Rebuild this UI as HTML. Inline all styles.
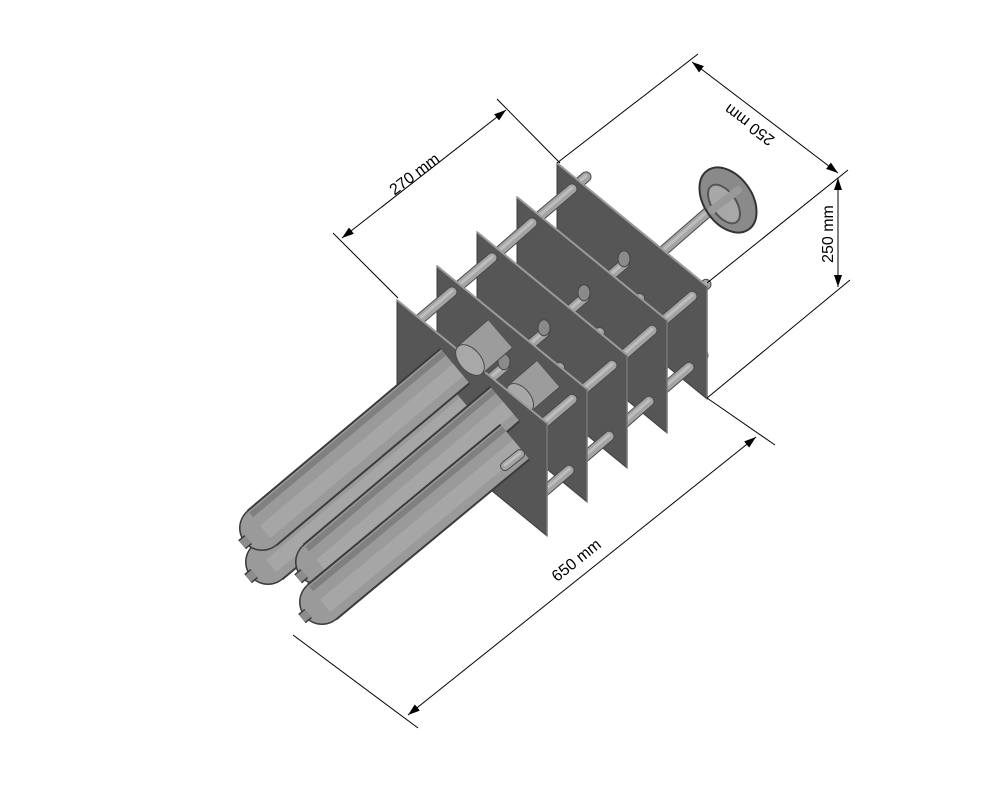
<!DOCTYPE html>
<html><head><meta charset="utf-8"><style>
html,body{margin:0;padding:0;background:#fff;}
svg{display:block;}
text{font-family:"Liberation Sans",sans-serif;font-size:16px;fill:#000;}
</style></head><body>
<svg id="s" width="1000" height="800" viewBox="0 0 1000 800" xmlns="http://www.w3.org/2000/svg">
<defs>
<marker id="ar" markerWidth="12" markerHeight="8" refX="12" refY="4" orient="auto" markerUnits="userSpaceOnUse">
<path d="M0,0 L12,4 L0,8 z" fill="#000"/></marker>
<marker id="al" markerWidth="12" markerHeight="8" refX="0" refY="4" orient="auto" markerUnits="userSpaceOnUse">
<path d="M12,0 L0,4 L12,8 z" fill="#000"/></marker>
</defs>
<rect width="1000" height="800" fill="#fff"/>
<g id="model"></g>
<g stroke="#000" stroke-width="1" fill="none">
<line x1="333" y1="233" x2="398" y2="298"/>
<line x1="497" y1="99" x2="560" y2="163"/>
<line x1="342" y1="238" x2="506" y2="110" marker-start="url(#al)" marker-end="url(#ar)"/>
<line x1="557" y1="163" x2="698" y2="54"/>
<line x1="707" y1="283" x2="848" y2="170"/>
<line x1="692" y1="62" x2="838" y2="173" marker-start="url(#al)" marker-end="url(#ar)"/>
<line x1="707" y1="398" x2="850" y2="280"/>
<line x1="838" y1="178" x2="838" y2="287" marker-start="url(#al)" marker-end="url(#ar)"/>
<line x1="707" y1="398" x2="775" y2="445"/>
<line x1="293" y1="635" x2="418" y2="728"/>
<line x1="408" y1="715" x2="756" y2="437" marker-start="url(#al)" marker-end="url(#ar)"/>
</g>
<text x="415" y="175" text-anchor="middle" dominant-baseline="middle" transform="rotate(-37 415 175)">270 mm</text>
<text x="750" y="124" text-anchor="middle" dominant-baseline="middle" transform="rotate(217 750 124)">250 mm</text>
<text x="829" y="234" text-anchor="middle" dominant-baseline="middle" transform="rotate(-90 829 234)">250 mm</text>
<text x="577" y="561" text-anchor="middle" dominant-baseline="middle" transform="rotate(-38.6 577 561)">650 mm</text>
</svg>
<script>
(function(){
var g=document.getElementById('model');var NS='http://www.w3.org/2000/svg';
function el(t,a){var e=document.createElementNS(NS,t);for(var k in a)e.setAttribute(k,a[k]);g.appendChild(e);return e;}
var X=[397,437,477,517,557],Y=[300,266,232,197,163];
function P(k,u,v){return [X[k]+150*u, Y[k]+123*u+113*v];}
function rod(a,b,w){el('line',{x1:a[0],y1:a[1],x2:b[0],y2:b[1],stroke:'#4a4a4a','stroke-width':w+2,'stroke-linecap':'round'});
el('line',{x1:a[0],y1:a[1],x2:b[0],y2:b[1],stroke:'#a4a4a4','stroke-width':w,'stroke-linecap':'round'});
el('line',{x1:a[0],y1:a[1]-1,x2:b[0],y2:b[1]-1,stroke:'#bdbdbd','stroke-width':Math.max(2,w/3),'stroke-linecap':'round'});}
function cyl(a,b,w){el('line',{x1:a[0],y1:a[1],x2:b[0],y2:b[1],stroke:'#4a4a4a','stroke-width':w+2});
el('line',{x1:a[0],y1:a[1],x2:b[0],y2:b[1],stroke:'#9c9c9c','stroke-width':w});
var dx=b[0]-a[0],dy=b[1]-a[1],ang=Math.atan2(dy,dx)*180/Math.PI;
el('ellipse',{cx:a[0],cy:a[1],rx:w*0.3,ry:w/2,transform:'rotate('+ang+' '+a[0]+' '+a[1]+')',fill:'#a8a8a8',stroke:'#4a4a4a'});}
var rods=[[0.1,0.12],[0.9,0.2],[0.12,0.88],[0.88,0.85],[0.45,0.4],[0.55,0.6]];
function plate(k){var a=P(k,0,0),b=P(k,1,0),c=P(k,1,1),d=P(k,0,1);
el('polygon',{points:[a,b,c,d].map(function(p){return p.join(',')}).join(' '),fill:'#565656',stroke:'#3c3c3c','stroke-width':1});
el('line',{x1:a[0],y1:a[1],x2:b[0],y2:b[1],stroke:'#9a9a9a','stroke-width':2});
el('line',{x1:b[0],y1:b[1],x2:c[0],y2:c[1],stroke:'#777','stroke-width':1.5});}
rods.forEach(function(r){var a=P(4,r[0],r[1]);rod(a,[a[0]+14,a[1]-12],9);});
rod([655,258],[724,198],9);
for(var k=4;k>=0;k--){plate(k);
 if(k>0){rods.forEach(function(r,i){rod(P(k,r[0],r[1]),P(k-1,r[0],r[1]),9);});
   var s=P(k,0.5,0.25);el('ellipse',{cx:s[0]-8,cy:s[1]+6,rx:6,ry:8,fill:'#8a8a8a',stroke:'#444'});
 }
 if(k==1){cyl([520,398],[548,374],34);}
 if(k==0){}
}
// handwheel
el('ellipse',{cx:728,cy:200,rx:24,ry:36,transform:'rotate(-35 728 200)',fill:'#8a8a8a',stroke:'#333','stroke-width':2});
el('ellipse',{cx:724,cy:204,rx:12,ry:22,transform:'rotate(-35 724 204)',fill:'#a8a8a8',stroke:'#555','stroke-width':2});
el('line',{x1:712,y1:210,x2:738,y2:190,stroke:'#999','stroke-width':8,'stroke-linecap':'round'});
// inner short cylinder visible behind front plate
cyl([470,360],[500,334],36);
function tank(a,b){var dx=b[0]-a[0],dy=b[1]-a[1],L=Math.hypot(dx,dy),ux=dx/L,uy=dy/L;
 var n=[a[0]-ux*26,a[1]-uy*26];
 el('circle',{cx:a[0],cy:a[1],r:23,fill:'#3c3c3c'});
 el('line',{x1:a[0],y1:a[1],x2:b[0],y2:b[1],stroke:'#3c3c3c','stroke-width':47});
 el('circle',{cx:a[0],cy:a[1],r:21.5,fill:'#9a9a9a'});
 el('line',{x1:a[0],y1:a[1],x2:b[0],y2:b[1],stroke:'#9a9a9a','stroke-width':43});
 el('line',{x1:a[0]-uy*5,y1:a[1]+ux*5,x2:b[0]-uy*5,y2:b[1]+ux*5,stroke:'#a6a6a6','stroke-width':16});
 el('line',{x1:a[0]+uy*17,y1:a[1]-ux*17,x2:b[0]+uy*17,y2:b[1]-ux*17,stroke:'#808080','stroke-width':6});
 el('line',{x1:a[0]-ux*18,y1:a[1]-uy*18,x2:n[0],y2:n[1],stroke:'#3c3c3c','stroke-width':12});
 el('line',{x1:a[0]-ux*18,y1:a[1]-uy*18,x2:n[0],y2:n[1],stroke:'#8c8c8c','stroke-width':9});}
tank([268,562],[462,400]);
tank([262,528],[455,366]);
tank([318,562],[505,404]);
tank([322,602],[515,442]);
rod([505,466],[520,454],8);
})();
</script>
</body></html>
